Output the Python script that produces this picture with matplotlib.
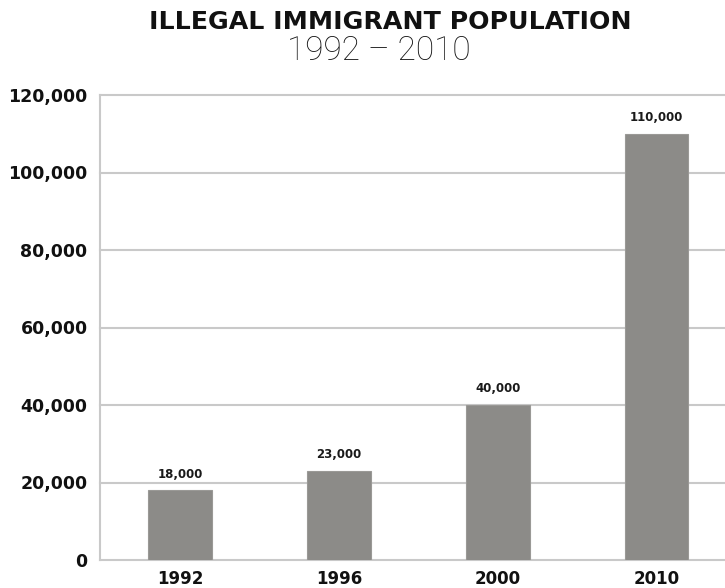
import matplotlib
matplotlib.use("Agg")
import matplotlib.pyplot as plt
from matplotlib.ticker import FuncFormatter

years = ["1992", "1996", "2000", "2010"]
population = [18000, 23000, 40000, 110000]
bar_labels = ["18,000", "23,000", "40,000", "110,000"]
yticks = [0, 20000, 40000, 60000, 80000, 100000, 120000]

plt.rcParams["font.family"] = ["DejaVu Sans"]

fig = plt.figure(figsize=(7.25, 5.88), dpi=100)
ax = fig.add_axes([100/725, 1-560/588, 1-100/725, (560-95)/588])

grid_c = "#c9c9c9"
bar_c = "#8c8b88"

x = list(range(len(years)))
ax.bar(x, population, width=0.4, color=bar_c, edgecolor="#9a9996", linewidth=0.8, zorder=3)
for xi, v, lab in zip(x, population, bar_labels):
    ax.annotate(lab, (xi, v), xytext=(0, 7), textcoords="offset points",
                ha="center", va="bottom", fontsize=8.5, fontweight="heavy",
                color="#1a1a1a")

ax.set_xlim(-0.503, 3.43)
ax.set_ylim(0, 120000)
ax.set_yticks(yticks)
ax.yaxis.set_major_formatter(FuncFormatter(lambda v, p: f"{int(v):,}"))
ax.set_xticks(x)
ax.set_xticklabels(years)
for t in ax.get_yticklabels():
    t.set_fontweight("heavy"); t.set_fontsize(12.5); t.set_color("#111111")
for t in ax.get_xticklabels():
    t.set_fontweight("heavy"); t.set_fontsize(12); t.set_color("#111111")
ax.tick_params(axis="both", length=0)
ax.tick_params(axis="y", pad=9)
ax.tick_params(axis="x", pad=7)

for yv in yticks:
    ax.axhline(yv, color=grid_c, linewidth=1.5, zorder=1, clip_on=False)
for s in ["top", "right", "bottom"]:
    ax.spines[s].set_visible(False)
ax.spines["left"].set_color(grid_c)
ax.spines["left"].set_linewidth(1.5)

fig.text(0.538, 1-22/588, "ILLEGAL IMMIGRANT POPULATION", ha="center", va="center",
         fontsize=18.2, fontweight="heavy", color="#111111")
fig.text(0.523, 1-51/588, "1992 – 2010", ha="center", va="center",
         fontsize=24, fontweight="light", family=["Roboto", "DejaVu Sans"], color="#151515")

fig.savefig("out.png", dpi=100)
